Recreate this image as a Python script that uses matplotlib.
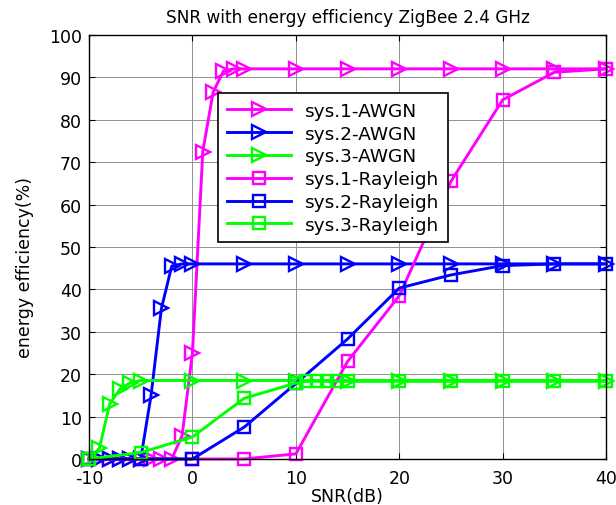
import matplotlib
matplotlib.use("Agg")
import matplotlib.pyplot as plt

# Data
x_s1_awgn = [-10, -9, -8, -7, -6, -5, -4, -3, -2, -1, 0, 1, 2, 3, 4, 5, 10, 15, 20, 25, 30, 35, 40]
y_s1_awgn = [0, 0, 0, 0, 0, 0, 0, 0, 0, 5.5, 25, 72.5, 86.5, 91.5, 92, 92, 92, 92, 92, 92, 92, 92, 92]

x_s2_awgn = [-10, -9, -8, -7, -6, -5, -4, -3, -2, -1, 0, 5, 10, 15, 20, 25, 30, 35, 40]
y_s2_awgn = [0, 0, 0, 0, 0, 0, 15, 35.5, 45.5, 46, 46, 46, 46, 46, 46, 46, 46, 46, 46]

x_s3_awgn = [-10, -9, -8, -7, -6, -5, 0, 5, 10, 15, 20, 25, 30, 35, 40]
y_s3_awgn = [0, 2.5, 13, 16.5, 18, 18.5, 18.5, 18.5, 18.5, 18.5, 18.5, 18.5, 18.5, 18.5, 18.5]

x_s1_ray = [-10, -5, 0, 5, 10, 15, 20, 25, 30, 35, 40]
y_s1_ray = [0, 0, 0, 0, 1.2, 23, 38.5, 65.5, 84.7, 91.2, 92]

x_s2_ray = [-10, -5, 0, 5, 10, 15, 20, 25, 30, 35, 40]
y_s2_ray = [0, 0, 0, 7.5, 17.8, 28.3, 40.3, 43.4, 45.6, 46, 46]

x_s3_ray = [-10, -5, 0, 5, 10, 11, 12, 13, 14, 15, 20, 25, 30, 35, 40]
y_s3_ray = [0, 1.5, 5.2, 14.3, 17.9, 18.3, 18.3, 18.3, 18.3, 18.3, 18.3, 18.3, 18.3, 18.3, 18.3]

labels = ["sys.1-AWGN", "sys.2-AWGN", "sys.3-AWGN",
          "sys.1-Rayleigh", "sys.2-Rayleigh", "sys.3-Rayleigh"]
x_ticks = [-10, 0, 10, 20, 30, 40]
y_ticks = list(range(0, 101, 10))

plt.rcParams['font.family'] = ['DejaVu Sans']
plt.rcParams['axes.unicode_minus'] = False

fig = plt.figure(figsize=(6.16, 5.06), dpi=100)
ax = fig.add_axes([0.1445, 0.091, 0.8395, 0.838])

mag, blu, grn = '#FF00FF', '#0000FF', '#00FF00'
series = [
    (x_s1_awgn, y_s1_awgn, mag, '>'),
    (x_s2_awgn, y_s2_awgn, blu, '>'),
    (x_s3_awgn, y_s3_awgn, grn, '>'),
    (x_s1_ray, y_s1_ray, mag, 's'),
    (x_s2_ray, y_s2_ray, blu, 's'),
    (x_s3_ray, y_s3_ray, grn, 's'),
]
for (xs, ys, c, m), lab in zip(series, labels):
    ms = 10 if m == '>' else 9
    ax.plot(xs, ys, color=c, marker=m, markersize=ms, markerfacecolor='none',
            markeredgecolor=c, markeredgewidth=1.7, linewidth=2.1, label=lab, clip_on=False)

ax.set_xlim(-10, 40)
ax.set_ylim(0, 100)
ax.set_xticks(x_ticks)
ax.set_yticks(y_ticks)
ax.tick_params(direction='in', top=True, right=True, labelsize=12.5, length=4)
ax.tick_params(axis='x', pad=7)
ax.tick_params(axis='y', pad=5)
ax.grid(True, color='#909090', linestyle='-', linewidth=0.7)
ax.set_axisbelow(True)
for sp in ax.spines.values():
    sp.set_linewidth(1.0)

ax.set_title("SNR with energy efficiency ZigBee 2.4 GHz", fontsize=12.2, pad=9)
ax.set_xlabel("SNR(dB)", fontsize=12.5, labelpad=0)
ax.set_ylabel("energy efficiency(%)", fontsize=12.5)
ax.yaxis.set_label_coords(-0.106, 0.455)

leg = ax.legend(loc='upper left', bbox_to_anchor=(0.25, 0.862), borderaxespad=0,
                fontsize=13.3, handlelength=3.5, fancybox=False, framealpha=1,
                edgecolor='black', borderpad=0.45, labelspacing=0.26, handletextpad=0.75)
leg.get_frame().set_linewidth(1.2)

fig.savefig("out.png", dpi=100)
